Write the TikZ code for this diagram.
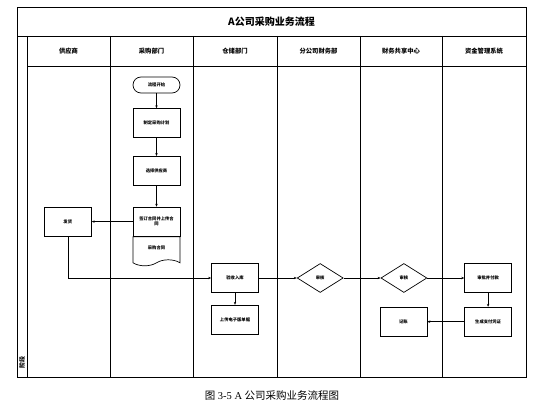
\documentclass[tikz,border=0pt]{standalone}
\usepackage{fontspec}
\setmainfont{Liberation Serif}
\newfontfamily\cjk{Noto Sans CJK SC}
\usepackage{tikz}
\usetikzlibrary{shapes.geometric,shapes.symbols,arrows.meta,positioning}

\begin{document}
\begin{tikzpicture}[
    x=1pt, y=-1pt,
    every node/.style={align=center},
    nodeFont/.style={font=\cjk\bfseries\fontsize{4.3}{5.2}\selectfont},
    procNode/.style={rectangle, draw=black, line width=0.7pt, nodeFont, inner sep=1pt, minimum width=47pt, minimum height=29pt, text width=44pt},
    termNode/.style={rectangle, rounded corners=8pt, draw=black, line width=0.7pt, nodeFont, minimum width=47pt, minimum height=16pt},
    docNode/.style={tape, tape bend top=none, tape bend height=6pt, draw=black, line width=0.7pt, nodeFont, minimum width=47pt, minimum height=29pt},
    decNode/.style={diamond, draw=black, line width=0.7pt, nodeFont, inner sep=0pt, minimum width=46pt, minimum height=29pt},
    headNode/.style={font=\cjk\bfseries\fontsize{6.3}{7}\selectfont},
    laneLine/.style={line width=0.8pt, draw=black},
    connArrow/.style={-{Stealth[length=3pt, width=2.4pt]}, line width=0.6pt, draw=black}
]
\useasboundingbox (0,0) rectangle (544,406);

% Frame and lanes
\draw [laneLine] (17,7) rectangle (526,377);
\draw [laneLine] (17,36) -- (526,36);
\draw [laneLine] (27,36) -- (27,377);
\draw [laneLine] (27,66) -- (526,66);
\foreach \x in {110,193,277,360,442}
    \draw [laneLine] (\x,36) -- (\x,377);

\node (title) [font=\cjk\bfseries\fontsize{10}{12}\selectfont] at (271.5,21.5) {A公司采购业务流程};
\node (phase) [font=\cjk\bfseries\fontsize{6}{7}\selectfont, rotate=90] at (22,363) {阶段};

% Lane headers
\foreach \cx/\name in {68.5/供应商, 151.5/采购部门, 235/仓储部门, 318.5/分公司财务部, 401/财务共享中心, 484/资金管理系统}
    \node [headNode] at (\cx,51) {\name};

% Nodes
\node (start) [termNode] at (156.5,85) {流程开始};
\node (plan) [procNode, below=15pt of start] {制定采购计划};
\node (choose) [procNode, below=18pt of plan] {选择供应商};
\node (sign) [procNode, below=21pt of choose] {签订合同并上传合\\同};
\node (contract) [docNode, below=0pt of sign] {采购合同};
\node (ship) [procNode, left=41pt of sign] {发货};
\node (stockIn) [procNode] at (235,278) {验收入库};
\node (upload) [procNode, below=12pt of stockIn] {上传电子版单据};
\node (check1) [decNode, right=38pt of stockIn] {审核};
\node (check2) [decNode, right=37pt of check1] {审核};
\node (pay) [procNode, right=37pt of check2] {审批并付款};
\node (voucher) [procNode, below=14pt of pay] {生成支付凭证};
\node (book) [procNode, left=37pt of voucher] {记账};

% Caption
\node (caption) [font=\fontsize{10.5}{12}\selectfont] at (272,396) {{\cjk 图} 3-5 A {\cjk 公司采购业务流程图}};

% Connectors
\draw [connArrow] (start) -- (plan);
\draw [connArrow] (plan) -- (choose);
\draw [connArrow] (choose) -- (sign);
\draw [connArrow] (sign) -- (ship);
\draw [connArrow] (ship.south) |- (stockIn.west);
\draw [connArrow] (stockIn) -- (upload);
\draw [connArrow] (stockIn) -- (check1);
\draw [connArrow] (check1) -- (check2);
\draw [connArrow] (check2) -- (pay);
\draw [connArrow] (pay) -- (voucher);
\draw [connArrow] (voucher) -- (book);

\end{tikzpicture}
\end{document}
